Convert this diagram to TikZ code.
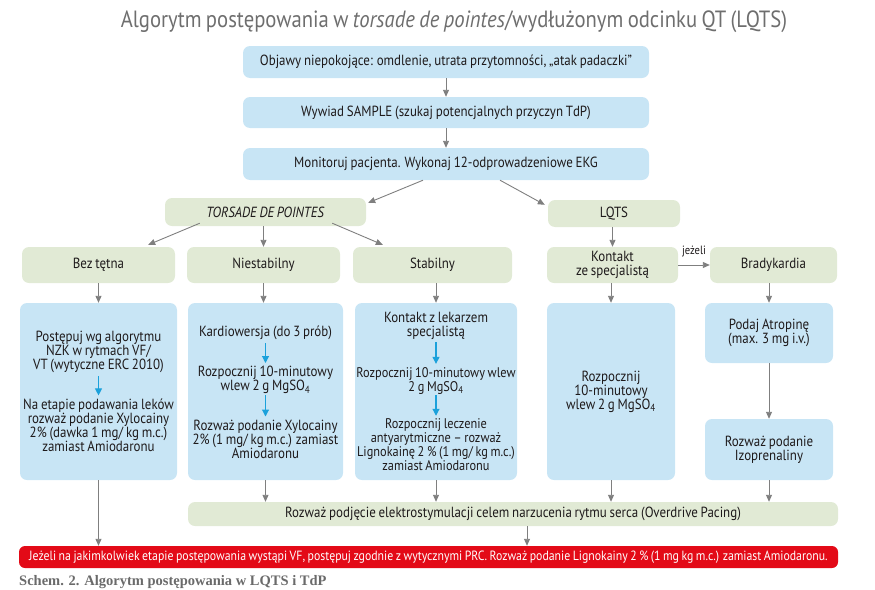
\documentclass[tikz,border=0pt]{standalone}
\usepackage{fontspec}
\setmainfont{PT Sans}[FakeStretch=0.88, WordSpace=0.8]
\newfontfamily\capfont{Liberation Serif}
\usetikzlibrary{arrows.meta,calc}
\definecolor{boxblue}{HTML}{C8E5F5}
\definecolor{boxgreen}{HTML}{E1EAD5}
\definecolor{arrgray}{HTML}{7F7F7F}
\definecolor{arrblue}{HTML}{1BA1DB}
\definecolor{redbox}{HTML}{E30A17}
\definecolor{titlegray}{HTML}{6E6E6E}
\definecolor{capgray}{HTML}{6A6A6A}
\definecolor{txt}{HTML}{1E1A1B}
\begin{document}
\begin{tikzpicture}[x=1pt,y=-1pt,
  box/.style={rounded corners=7pt, inner sep=0pt, align=center, text=txt, font=\fontsize{14.7}{14}\selectfont},
  bbox/.style={box, fill=boxblue},
  gbox/.style={box, fill=boxgreen},
  arr/.style={draw=arrgray, line width=0.9pt, -{Triangle[length=7pt,width=6pt]}},
  barr/.style={draw=arrblue, line width=1.1pt, -{Triangle[length=7pt,width=7pt]}},
  tx/.style={inner sep=0pt, align=center, text=txt, font=\fontsize{14.7}{14}\selectfont},
]
\useasboundingbox (0,0) rectangle (875,589);

% title
\node[inner sep=0pt, text=titlegray, font=\fontsize{23.5}{26}\selectfont] (title) at (454,22)
  {Algorytm postępowania w \textit{torsade de pointes}/wydłużonym odcinku QT (LQTS)};

% top boxes
\node[bbox, minimum width=406, minimum height=32] (b1) at (446,62)
  {Objawy niepokojące: omdlenie, utrata przytomności, „atak padaczki”};
\node[bbox, minimum width=406, minimum height=31] (b2) at (446,112.5)
  {Wywiad SAMPLE (szukaj potencjalnych przyczyn TdP)};
\node[bbox, minimum width=406, minimum height=32] (b3) at (446,164)
  {Monitoruj pacjenta. Wykonaj 12-odprowadzeniowe EKG};

% second level
\node[gbox, minimum width=201, minimum height=28] (tdp) at (265.5,212) {\textit{TORSADE DE POINTES}};
\node[gbox, minimum width=132, minimum height=27] (lqts) at (614,213.5) {LQTS};

% third level
\node[gbox, minimum width=153, minimum height=36] (bez) at (98.5,265) {Bez tętna};
\node[gbox, minimum width=153, minimum height=36] (nie) at (263.5,265) {Niestabilny};
\node[gbox, minimum width=159, minimum height=36] (sta) at (432.5,265) {Stabilny};
\node[gbox, minimum width=131, minimum height=36] (kon) at (612.5,265) {Kontakt\\ze specjalistą};
\node[gbox, minimum width=127, minimum height=36] (bra) at (773.5,265) {Bradykardia};

% big blue boxes
\node[bbox, minimum width=157, minimum height=177] (c1) at (98.5,391.5) {};
\node[bbox, minimum width=155, minimum height=177] (c2) at (265.5,391.5) {};
\node[bbox, minimum width=162, minimum height=177] (c3) at (436,391.5) {};
\node[bbox, minimum width=128, minimum height=177] (c4) at (611,391.5) {};
\node[bbox, minimum width=128, minimum height=60] (c5) at (769,333) {Podaj Atropinę\\(max. 3 mg i.v.)};
\node[bbox, minimum width=128, minimum height=61] (c6) at (769,449.5) {Rozważ podanie\\Izoprenaliny};

% texts in c1
\node[tx] (c1a) at (98.5,352) {Postępuj wg algorytmu\\NZK w rytmach VF/\\VT (wytyczne ERC 2010)};
\node[tx] (c1b) at (98.5,425) {Na etapie podawania leków\\rozważ podanie Xylocainy\\2\% (dawka 1 mg/ kg m.c.)\\zamiast Amiodaronu};
% texts in c2
\node[tx] (c2a) at (265.5,333) {Kardiowersja (do 3 prób)};
\node[tx] (c2b) at (265.5,380) {Rozpocznij 10-minutowy\\wlew 2 g MgSO\textsubscript{4}};
\node[tx] (c2c) at (265.5,439) {Rozważ podanie Xylocainy\\2\% (1 mg/ kg m.c.) zamiast\\Amiodaronu};
% texts in c3
\node[tx] (c3a) at (436,325.5) {Kontakt z lekarzem\\specjalistą};
\node[tx, font=\fontsize{14}{14}\selectfont] (c3b) at (436,380.5) {Rozpocznij 10-minutowy wlew\\2 g MgSO\textsubscript{4}};
\node[tx, font=\fontsize{14}{14}\selectfont] (c3c) at (436,445) {Rozpocznij leczenie\\antyarytmiczne – rozważ\\Lignokainę 2 \% (1 mg/ kg m.c.)\\zamiast Amiodaronu};
% text in c4
\node[tx] (c4a) at (611,391.5) {Rozpocznij\\10-minutowy\\wlew 2 g MgSO\textsubscript{4}};

% bottom boxes
\node[gbox, minimum width=650, minimum height=24] (ovr) at (513,514)
  {Rozważ podjęcie elektrostymulacji celem narzucenia rytmu serca (Overdrive Pacing)};
\node[box, fill=redbox, text=white, rounded corners=6pt, minimum width=819, minimum height=22,
  font=\fontsize{13.4}{13}\selectfont] (red) at (428.5,557)
  {Jeżeli na jakimkolwiek etapie postępowania wystąpi VF, postępuj zgodnie z wytycznymi PRC. Rozważ podanie Lignokainy 2 \% (1 mg kg m.c.) zamiast Amiodaronu.};

% caption
\node[anchor=west, inner sep=0pt, text=capgray, font=\capfont\bfseries\fontsize{14.5}{16}\selectfont] (cap) at (19,582)
  {Schem. 2. Algorytm postępowania w LQTS i TdP};

\coordinate (ovx) at (527,0);

% gray arrows
\draw[arr] (b1) -- (b2);
\draw[arr] (b2) -- (b3);
\draw[arr] ($(b3.south)+(-23,0)$) -- ($(tdp.north east)+(2,5)$);
\draw[arr] ($(b3.south)+(54,0)$) -- ($(lqts.north west)+(-3,5)$);
\draw[arr] ($(tdp.south west)+(35,-3)$) -- ($(bez.north east)+(-27,-2)$);
\draw[arr] (tdp.south -| nie.north) -- (nie.north);
\draw[arr] ($(tdp.south east)+(-34,-3)$) -- ($(sta.north west)+(30,-2)$);
\draw[arr] (lqts.south -| kon.north) -- (kon.north);
\draw[arr] (kon.east) -- (bra.west) node[midway, above=8pt, inner sep=0pt, text=txt, font=\fontsize{12}{12}\selectfont] (jez) {jeżeli};
\draw[arr] (bez.south -| c1.north) -- (c1.north);
\draw[arr] (nie.south) -- (nie.south |- c2.north);
\draw[arr] (sta.south -| c3.north) -- (c3.north);
\draw[arr] (kon.south -| c4.north) -- (c4.north);
\draw[arr] (bra.south -| c5.north) -- (c5.north);
\draw[arr] (c5) -- (c6);
\draw[arr] (c1.south) -- (c1.south |- red.north);
\draw[arr] (c2.south) -- (c2.south |- ovr.north);
\draw[arr] (c3.south) -- (c3.south |- ovr.north);
\draw[arr] (c4.south) -- (c4.south |- ovr.north);
\draw[arr] (c6.south) -- (c6.south |- ovr.north);
\draw[arr] (ovr.south -| ovx) -- (red.north -| ovx);

% blue arrows
\draw[barr] ($(c1a.south)+(0,3)$) -- ($(c1b.north)+(0,-3)$);
\draw[barr] ($(c2a.south)+(0,3)$) -- ($(c2b.north)+(0,-3)$);
\draw[barr] ($(c2b.south)+(0,1)$) -- ($(c2c.north)+(0,-3)$);
\draw[barr] ($(c3a.south)+(0,3)$) -- ($(c3b.north)+(0,-3)$);
\draw[barr] ($(c3b.south)+(0,1)$) -- ($(c3c.north)+(0,-3)$);
\end{tikzpicture}
\end{document}
